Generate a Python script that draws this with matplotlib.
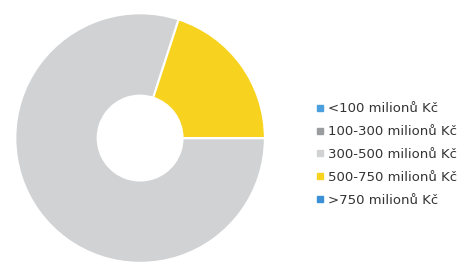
import matplotlib.pyplot as plt
from matplotlib.lines import Line2D

categories = ['<100 milionů Kč', '100-300 milionů Kč', '300-500 milionů Kč',
              '500-750 milionů Kč', '>750 milionů Kč']
shares = [0, 0, 80, 20, 0]
colors = ['#4a9fdc', '#9a9c9e', '#d0d2d4', '#f7d320', '#3c8fd4']

fig = plt.figure(figsize=(4.67, 2.62), dpi=100)
ax = fig.add_axes([0.03, -0.008, 0.54, 0.962])
ax.pie(shares, colors=colors, startangle=0, counterclock=False,
       wedgeprops=dict(width=0.66, edgecolor='white', linewidth=1.5))
ax.set_xlim(-1.01, 1.01)
ax.set_ylim(-1.01, 1.01)
ax.set_aspect('equal')

handles = [Line2D([], [], marker='s', linestyle='', markersize=4,
                  markerfacecolor=c, markeredgecolor=c) for c in colors]
fig.legend(handles, categories, loc='center left', bbox_to_anchor=(0.652, 0.41),
           frameon=False, fontsize=9.5, handlelength=0.6, handletextpad=0.3,
           labelspacing=0.75, labelcolor='#333333')

fig.savefig('out.png', dpi=100)
